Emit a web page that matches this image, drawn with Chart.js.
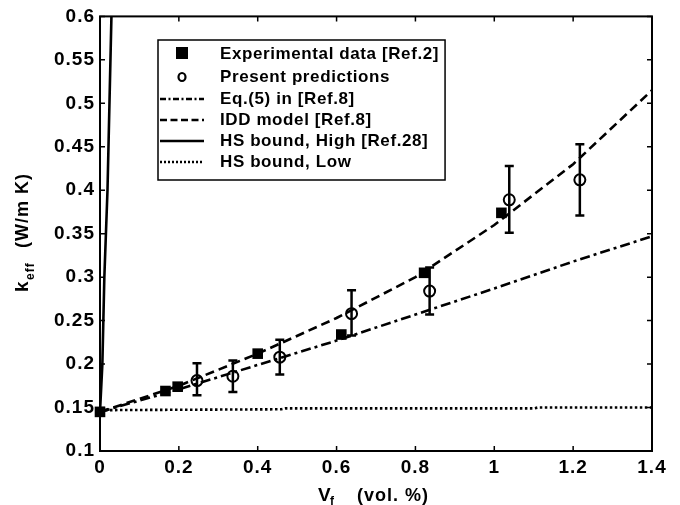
<!DOCTYPE html>
<html>
<head>
<meta charset="utf-8">
<script src="https://cdn.jsdelivr.net/npm/chart.js@4.4.0/dist/chart.umd.min.js"></script>
<style>
  html, body { margin: 0; padding: 0; background: #fff; }
  #wrap { width: 680px; height: 505px; }
</style>
</head>
<body>
<div id="wrap"><canvas id="keff"></canvas></div>
<script>
// tick labels
const xTickLabels = ['0', '0.2', '0.4', '0.6', '0.8', '1', '1.2', '1.4'];
const yTickLabels = ['0.1', '0.15', '0.2', '0.25', '0.3', '0.35', '0.4', '0.45', '0.5', '0.55', '0.6'];

// experimental data [Ref.2]
const expVf = [0, 0.166, 0.197, 0.40, 0.612, 0.822, 1.018];
const expK = [0.145, 0.169, 0.174, 0.212, 0.234, 0.305, 0.374];

// present predictions + error bars
const predVf = [0.246, 0.337, 0.456, 0.638, 0.836, 1.038, 1.217];
const predK = [0.181, 0.186, 0.208, 0.258, 0.284, 0.389, 0.412];
const predLow = [0.164, 0.168, 0.188, 0.233, 0.257, 0.351, 0.371];
const predHigh = [0.201, 0.204, 0.228, 0.285, 0.311, 0.428, 0.453];

// model curves
const curveVf = [0, 0.2, 0.4, 0.6, 0.8, 1.0, 1.2, 1.4];
const eq5K = [0.145, 0.171, 0.199, 0.227, 0.257, 0.287, 0.318, 0.347];
const iddK = [0.145, 0.175, 0.212, 0.253, 0.300, 0.360, 0.430, 0.515];

const hsHighVf = [0, 0.006, 0.011, 0.019, 0.024, 0.029];
const hsHighK = [0.145, 0.2, 0.3, 0.4, 0.5, 0.6];

const hsLowVf = [0, 0.46, 0.47, 1.1, 1.11, 1.4];
const hsLowK = [0.147, 0.148, 0.149, 0.149, 0.150, 0.150];

const legendNames = ['Experimental data [Ref.2]', 'Present predictions', 'Eq.(5) in [Ref.8]',
    'IDD model [Ref.8]', 'HS bound, High [Ref.28]', 'HS bound, Low'];

const pts = (xs, ys) => xs.map((x, i) => ({ x: x, y: ys[i] }));

const FONT = '"Liberation Sans", Arial, sans-serif';
const dashDot = [10, 4, 3, 4];
const dashed = [9, 5];
const dotted = [2.5, 2.5];

// the reference lettering is set a little wide
const spacing = {
    id: 'spacing',
    beforeDraw(chart) {
        chart.ctx.letterSpacing = '1px';
    }
};

// frame, inward ticks, error bars, axis titles, legend
const decor = {
    id: 'decor',
    afterDatasetsDraw(chart) {
        const ctx = chart.ctx;
        const a = chart.chartArea;
        const xs = chart.scales.x, ys = chart.scales.y;
        ctx.save();

        // error bars
        ctx.strokeStyle = '#000';
        ctx.lineWidth = 2.5;
        ctx.setLineDash([]);
        predVf.forEach((v, i) => {
            const px = xs.getPixelForValue(v);
            const top = ys.getPixelForValue(predHigh[i]);
            const bot = ys.getPixelForValue(predLow[i]);
            ctx.beginPath();
            ctx.moveTo(px, top); ctx.lineTo(px, bot);
            ctx.moveTo(px - 4.5, top); ctx.lineTo(px + 4.5, top);
            ctx.moveTo(px - 4.5, bot); ctx.lineTo(px + 4.5, bot);
            ctx.stroke();
        });

        // frame
        ctx.lineWidth = 2;
        ctx.strokeRect(a.left, a.top, a.right - a.left, a.bottom - a.top);
        ctx.beginPath();
        xs.ticks.forEach(t => {
            const px = xs.getPixelForValue(t.value);
            ctx.moveTo(px, a.bottom); ctx.lineTo(px, a.bottom - 5);
            ctx.moveTo(px, a.top); ctx.lineTo(px, a.top + 5);
        });
        ys.ticks.forEach(t => {
            const py = ys.getPixelForValue(t.value);
            ctx.moveTo(a.left, py); ctx.lineTo(a.left + 5, py);
            ctx.moveTo(a.right, py); ctx.lineTo(a.right - 5, py);
        });
        ctx.lineWidth = 1.5;
        ctx.stroke();

        // axis titles
        ctx.letterSpacing = '1px';
        ctx.fillStyle = '#000';
        ctx.textBaseline = 'alphabetic';
        ctx.textAlign = 'left';
        ctx.font = 'bold 19px ' + FONT;
        ctx.fillText('V', 318, 501);
        ctx.font = 'bold 12px ' + FONT;
        ctx.fillText('f', 330, 505);
        ctx.font = 'bold 18px ' + FONT;
        ctx.fillText('(vol. %)', 357, 501);

        ctx.save();
        ctx.translate(28, 292);
        ctx.rotate(-Math.PI / 2);
        ctx.font = 'bold 19px ' + FONT;
        ctx.fillText('k', 0, 0);
        ctx.font = 'bold 12px ' + FONT;
        ctx.fillText('eff', 12, 6);
        ctx.font = 'bold 18px ' + FONT;
        ctx.fillText('(W/m K)', 44, 0);
        ctx.restore();

        // legend box
        ctx.font = 'bold 17px ' + FONT;
        ctx.letterSpacing = '0.6px';
        const textW = Math.max(...legendNames.map(n => ctx.measureText(n).width));
        const lx = 158, ly = 40, lw = 220 + textW + 6 - lx, lh = 140;
        ctx.fillStyle = '#fff';
        ctx.fillRect(lx, ly, lw, lh);
        ctx.lineWidth = 1.5;
        ctx.strokeRect(lx, ly, lw, lh);
        const rowY = [53, 76, 98, 119, 140, 161];
        ctx.textBaseline = 'middle';
        legendNames.forEach((name, i) => {
            const y = rowY[i];
            ctx.fillStyle = '#000';
            ctx.strokeStyle = '#000';
            ctx.setLineDash([]);
            if (i === 0) {
                ctx.fillRect(176, y - 6, 12, 12);
            } else if (i === 1) {
                ctx.lineWidth = 2.2;
                ctx.beginPath();
                ctx.ellipse(182, y + 1, 3.5, 4, 0, 0, Math.PI * 2);
                ctx.stroke();
            } else {
                ctx.lineWidth = 2.5;
                ctx.setLineDash([[6, 2.5, 2, 2.5], [7, 3.5], [], [2, 2]][i - 2]);
                ctx.beginPath();
                ctx.moveTo(160, y + 1);
                ctx.lineTo(204, y + 1);
                ctx.stroke();
            }
            ctx.setLineDash([]);
            ctx.fillStyle = '#000';
            ctx.fillText(name, 220, y + 1);
        });

        ctx.restore();
    }
};

const lineSet = (data, dash, order) => ({
    data: data,
    showLine: true,
    borderColor: '#000',
    borderWidth: 2.6,
    borderDash: dash,
    pointRadius: 0,
    fill: false,
    order: order
});

const tickFont = { family: FONT, size: 19, weight: 'bold' };

new Chart(document.getElementById('keff'), {
    type: 'scatter',
    data: {
        datasets: [
            {
                data: pts(expVf, expK),
                pointStyle: 'rect',
                pointRadius: 7.5,
                backgroundColor: '#000',
                borderColor: '#000',
                borderWidth: 0,
                clip: false,
                order: 1
            },
            {
                data: pts(predVf, predK),
                pointStyle: 'circle',
                pointRadius: 5.5,
                backgroundColor: 'rgba(255,255,255,0)',
                borderColor: '#000',
                borderWidth: 2,
                order: 2
            },
            lineSet(pts(curveVf, eq5K), dashDot, 3),
            lineSet(pts(curveVf, iddK), dashed, 4),
            lineSet(pts(hsHighVf, hsHighK), [], 5),
            lineSet(pts(hsLowVf, hsLowK), dotted, 6)
        ]
    },
    options: {
        responsive: true,
        maintainAspectRatio: false,
        animation: false,
        layout: { padding: { left: 0, right: 28, top: 16, bottom: 0 } },
        plugins: {
            legend: { display: false },
            tooltip: { enabled: false }
        },
        scales: {
            x: {
                type: 'linear',
                min: 0,
                max: 1.4,
                afterFit: s => { s.height = 54; },
                grid: { display: false, drawTicks: false, tickLength: 0 },
                border: { display: false },
                ticks: {
                    stepSize: 0.2,
                    padding: 5,
                    color: '#000',
                    font: tickFont,
                    callback: (v, i) => xTickLabels[i]
                }
            },
            y: {
                type: 'linear',
                min: 0.1,
                max: 0.6,
                afterFit: s => { s.width = 100; },
                grid: { display: false, drawTicks: false, tickLength: 0 },
                border: { display: false },
                ticks: {
                    stepSize: 0.05,
                    padding: 5,
                    color: '#000',
                    font: tickFont,
                    callback: (v, i) => yTickLabels[i]
                }
            }
        }
    },
    plugins: [spacing, decor]
});
</script>
</body>
</html>
